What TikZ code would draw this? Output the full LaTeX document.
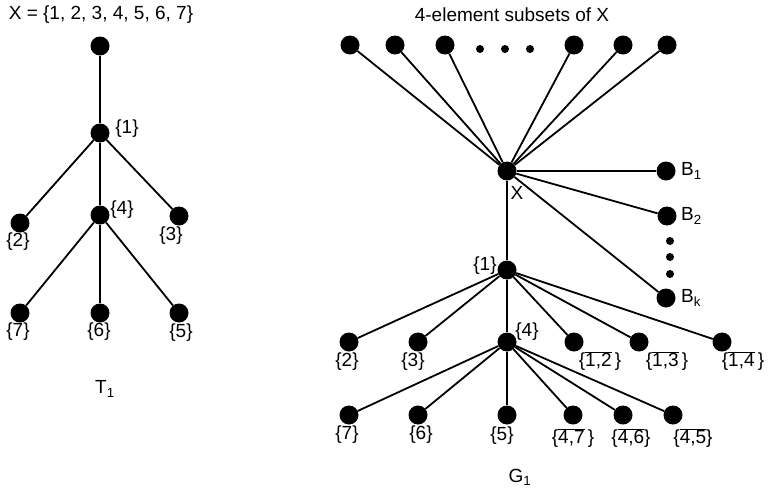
\documentclass[tikz,border=0pt]{standalone}
\usepackage{fontspec}
\setmainfont{Liberation Sans}
\newcommand{\ovl}[1]{$\overline{\mbox{#1}}$}
\begin{document}
\begin{tikzpicture}[x=1pt,y=-1pt,
  vtx/.style={circle,fill=black,inner sep=0pt,minimum size=19pt},
  smalldot/.style={circle,fill=black,inner sep=0pt,minimum size=8pt},
  lbl/.style={inner sep=0pt,font=\fontsize{19}{22}\selectfont},
  edge/.style={line width=1.8pt}]
\useasboundingbox (0,0) rectangle (772,490);

% ---------- tree T1 ----------
\node[lbl] (tt) at (101,15) {X = \{1, 2, 3, 4, 5, 6, 7\}};
\node[vtx] (t0) at (100,46) {};
\node[vtx] (t1) at (100,133) {};
\node[vtx] (t2) at (20,223) {};
\node[vtx] (t4) at (100,215) {};
\node[vtx] (t3) at (179,216) {};
\node[vtx] (t7) at (20,313) {};
\node[vtx] (t6) at (100,313) {};
\node[vtx] (t5) at (179,313) {};
\draw[edge] (t0) -- (t1);
\draw[edge] (t1) -- (t2);
\draw[edge] (t1) -- (t4);
\draw[edge] (t1) -- (t3);
\draw[edge] (t4) -- (t7);
\draw[edge] (t4) -- (t6);
\draw[edge] (t4) -- (t5);
\node[lbl] (lt1) at (127,129) {\{1\}};
\node[lbl] (lt2) at (18,242) {\{2\}};
\node[lbl] (lt4) at (122,210) {\{4\}};
\node[lbl] (lt3) at (171,236) {\{3\}};
\node[lbl] (lt7) at (18,332) {\{7\}};
\node[lbl] (lt6) at (99,332) {\{6\}};
\node[lbl] (lt5) at (181,333) {\{5\}};
\node[lbl] (tname) at (105,389) {T\textsubscript{1}};

% ---------- graph G1 ----------
\node[lbl] (gt) at (512,15) {4-element subsets of X};
\node[vtx] (s1) at (350,45) {};
\node[vtx] (s2) at (395,45) {};
\node[vtx] (s3) at (445,45) {};
\node[vtx] (s4) at (574,45) {};
\node[vtx] (s5) at (623,45) {};
\node[vtx] (s6) at (667,45) {};
\node[smalldot] (d1) at (480,49) {};
\node[smalldot] (d2) at (505,49) {};
\node[smalldot] (d3) at (530,49) {};

\node[vtx] (gx) at (507,171) {};
\node[vtx] (b1) at (666,171) {};
\node[vtx] (b2) at (667,216) {};
\node[smalldot] (e1) at (670,241) {};
\node[smalldot] (e2) at (670,257) {};
\node[smalldot] (e3) at (670,274) {};
\node[vtx] (bk) at (666,298) {};

\node[vtx] (g1) at (507,270) {};
\node[vtx] (g2) at (349,342) {};
\node[vtx] (g3) at (418,342) {};
\node[vtx] (g4) at (507,342) {};
\node[vtx] (g12) at (574,342) {};
\node[vtx] (g13) at (639,342) {};
\node[vtx] (g14) at (722,342) {};

\node[vtx] (g7) at (349,415) {};
\node[vtx] (g6) at (418,415) {};
\node[vtx] (g5) at (507,415) {};
\node[vtx] (g47) at (573,415) {};
\node[vtx] (g46) at (623,415) {};
\node[vtx] (g45) at (673,415) {};

\foreach \s in {s1,s2,s3,s4,s5,s6} \draw[edge] (\s) -- (gx);
\foreach \b in {b1,b2,bk} \draw[edge] (gx) -- (\b);
\draw[edge] (gx) -- (g1);
\foreach \c in {g2,g3,g4,g12,g13,g14} \draw[edge] (g1) -- (\c);
\foreach \c in {g7,g6,g5,g47,g46,g45} \draw[edge] (g4) -- (\c);

\node[lbl] (lx) at (517,193) {X};
\node[lbl,anchor=west] (lb1) at (681,171) {B\textsubscript{1}};
\node[lbl,anchor=west] (lb2) at (681,216) {B\textsubscript{2}};
\node[lbl,anchor=west] (lbk) at (681,298) {B\textsubscript{k}};
\node[lbl] (lg1) at (485,266) {\{1\}};
\node[lbl] (lg4) at (527,332) {\{4\}};
\node[lbl] (lg2) at (347,362) {\{2\}};
\node[lbl] (lg3) at (413,362) {\{3\}};
\node[lbl] (lg12) at (600,361) {\{\ovl{1,2}\,\}};
\node[lbl] (lg13) at (667,361) {\{\ovl{1,3}\,\}};
\node[lbl] (lg14) at (743,361) {\{\ovl{1,4}\,\}};
\node[lbl] (lg7) at (347,435) {\{7\}};
\node[lbl] (lg6) at (421,435) {\{6\}};
\node[lbl] (lg5) at (502,436) {\{5\}};
\node[lbl] (lg47) at (573,438) {\{\ovl{4,7}\,\}};
\node[lbl] (lg46) at (631,438) {\{\ovl{4,6}\}};
\node[lbl] (lg45) at (693,438) {\{\ovl{4,5}\}};
\node[lbl] (gname) at (520,477) {G\textsubscript{1}};
\end{tikzpicture}
\end{document}
